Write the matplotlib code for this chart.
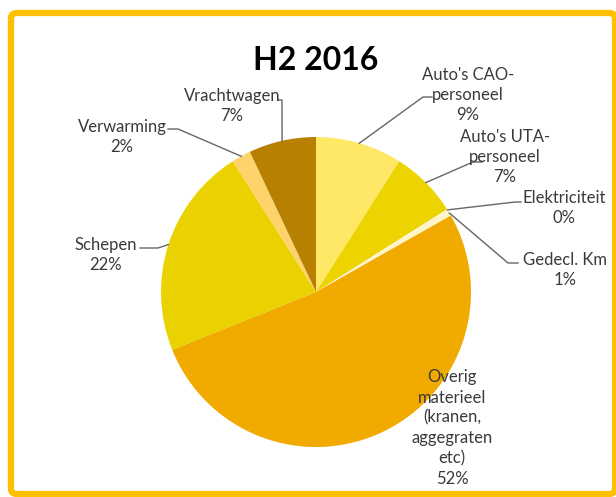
import numpy as np
import matplotlib
matplotlib.use("Agg")
import matplotlib.pyplot as plt
from matplotlib.patches import FancyBboxPatch

# ======== Data ========
labels = ["Auto's CAO-\npersoneel", "Auto's UTA-\npersoneel", "Elektriciteit",
          "Gedecl. Km", "Overig\nmaterieel\n(kranen,\naggegraten\netc)",
          "Schepen", "Verwarming", "Vrachtwagen"]
values = [9, 7, 0.15, 0.6, 52, 22, 2, 7]
pct_text = ["9%", "7%", "0%", "1%", "52%", "22%", "2%", "7%"]
colors = ["#FFE866", "#EDD300", "#FFF5C8", "#FFF5C8", "#F0AA00",
          "#E9D200", "#FFD36B", "#B88000"]

# ======== Layout (pixel coords, y from top) ========
W, H = 616, 497
CX, CY, R = 316, 292, 155
# label centre, and leader points from label side towards the pie
label_pos = [(468, 95), (505, 157), (564, 208), (565, 270), (452, 428),
             (106, 255), (122, 137), (232, 106)]
leaders = [[(432, 97), (423, 97)],
           [(482, 162), (473, 162)],
           [(521, 202), (515, 202)],
           [(518, 263), (508, 263)],
           None,
           [(140, 248), (158, 248)],
           [(168, 129), (178, 129)],
           [(278, 100), (282, 100)]]

plt.rcParams['font.family'] = ['Lato', 'DejaVu Sans']

fig = plt.figure(figsize=(W / 100, H / 100), dpi=100)
ax = fig.add_axes([0, 0, 1, 1])

wedges, _ = ax.pie(values, colors=colors, startangle=90, counterclock=False,
                   radius=R, center=(CX, H - CY),
                   wedgeprops=dict(linewidth=0))
ax.set_xlim(0, W)
ax.set_ylim(0, H)
ax.set_aspect('equal')
ax.axis('off')

for i, w in enumerate(wedges):
    tx, ty = label_pos[i]
    ax.text(tx, H - ty, labels[i] + "\n" + pct_text[i], ha='center', va='center',
            fontsize=12, color='#3A3A3A', linespacing=1.32)
    if leaders[i] is None:
        continue
    mid = np.deg2rad((w.theta1 + w.theta2) / 2)
    ax_pt = (CX + R * np.cos(mid), H - CY + R * np.sin(mid))
    pts = [(x, H - y) for x, y in leaders[i]] + [ax_pt]
    xs, ys = zip(*pts)
    ax.plot(xs, ys, color='#666666', lw=1)

ax.text(316, H - 60, "H2 2016", ha='center', va='center', fontsize=23,
        fontweight='bold', color='black')

# orange frame
frame = FancyBboxPatch((11 / W, 3 / H), (615 - 11) / W, (494 - 13) / H,
                       boxstyle="round,pad=0,rounding_size=0.01",
                       transform=fig.transFigure, fill=False,
                       edgecolor='#FFC000', linewidth=4.5)
fig.patches.append(frame)

fig.savefig("out.png", dpi=100)
